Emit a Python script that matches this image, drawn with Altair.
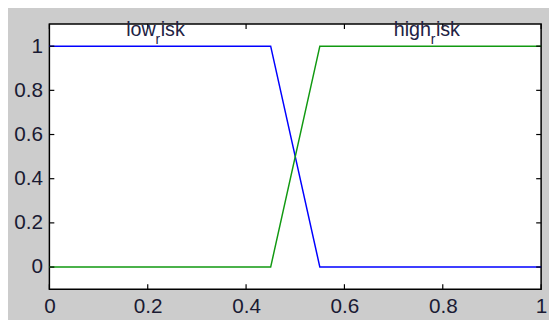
import altair as alt
import pandas as pd

# membership function breakpoints
mf_x = [0.0, 0.45, 0.55, 1.0]
low_risk = [1.0, 1.0, 0.0, 0.0]
high_risk = [0.0, 0.0, 1.0, 1.0]

x_ticks = [0, 0.2, 0.4, 0.6, 0.8, 1.0]
y_ticks = [0, 0.2, 0.4, 0.6, 0.8, 1.0]

label_pre = ["low", "high"]
label_sub = ["r", "r"]
label_post = ["isk", "isk"]
label_x = [0.2204, 0.780]
label_y = [1.045, 1.045]

W, H = 499, 269

df = pd.DataFrame({
    "x": mf_x * 2,
    "y": low_risk + high_risk,
    "mf": ["low"] * 4 + ["high"] * 4,
})
lab = pd.DataFrame({"x": label_x, "y": label_y, "pre": label_pre,
                    "sub": label_sub, "post": label_post})
xt = pd.DataFrame({"t": x_ticks})
yt = pd.DataFrame({"t": y_ticks})

FONT = "Liberation Sans"
xs = alt.Scale(domain=[0, 1], nice=False, zero=False)
ys = alt.Scale(domain=[-0.1, 1.1], nice=False, zero=False)

lines = alt.Chart(df).mark_line(strokeWidth=1.5).encode(
    x=alt.X("x:Q", scale=xs, title=None,
            axis=alt.Axis(values=x_ticks, format="~g", tickSize=0, domain=False,
                          grid=False, labelFont=FONT, labelFontSize=21,
                          labelColor="#1a1a33", labelPadding=7, labelFlush=False)),
    y=alt.Y("y:Q", scale=ys, title=None,
            axis=alt.Axis(values=y_ticks, format="~g", tickSize=0, domain=False,
                          grid=False, labelFont=FONT, labelFontSize=21,
                          labelColor="#1a1a33", labelPadding=7)),
    color=alt.Color("mf:N", scale=alt.Scale(domain=["low", "high"],
                                            range=["#0000ff", "#119911"]),
                    legend=None),
    detail="mf:N",
)

tick_color = "black"
bottom_ticks = alt.Chart(xt).mark_rule(color=tick_color, strokeWidth=1.2).encode(
    x=alt.X("t:Q", scale=xs), y=alt.value(H), y2=alt.value(H - 5))
top_ticks = alt.Chart(xt).mark_rule(color=tick_color, strokeWidth=1.2).encode(
    x=alt.X("t:Q", scale=xs), y=alt.value(0), y2=alt.value(5))
left_ticks = alt.Chart(yt).mark_rule(color=tick_color, strokeWidth=1.2).encode(
    y=alt.Y("t:Q", scale=ys), x=alt.value(0), x2=alt.value(5))
right_ticks = alt.Chart(yt).mark_rule(color=tick_color, strokeWidth=1.2).encode(
    y=alt.Y("t:Q", scale=ys), x=alt.value(W), x2=alt.value(W - 5))

pre = alt.Chart(lab).mark_text(font=FONT, fontSize=20, align="right",
                               baseline="alphabetic", dx=-2, color="#222244").encode(
    x=alt.X("x:Q", scale=xs), y=alt.Y("y:Q", scale=ys), text="pre:N")
sub = alt.Chart(lab).mark_text(font=FONT, fontSize=14, align="center",
                               baseline="alphabetic", dy=8, color="#222244").encode(
    x=alt.X("x:Q", scale=xs), y=alt.Y("y:Q", scale=ys), text="sub:N")
post = alt.Chart(lab).mark_text(font=FONT, fontSize=20, align="left",
                                baseline="alphabetic", dx=3, color="#222244").encode(
    x=alt.X("x:Q", scale=xs), y=alt.Y("y:Q", scale=ys), text="post:N")

chart = alt.layer(lines, bottom_ticks, top_ticks, left_ticks, right_ticks,
                  pre, sub, post).properties(
    width=W, height=H,
    background="#cccccc",
    padding={"left": 42, "top": 14, "right": 8, "bottom": 29},
    autosize=alt.AutoSizeParams(type="none"),
).configure_view(
    fill="white", stroke="black", strokeWidth=1.5
)

chart.save("out.html", embed_options={"renderer": "svg", "actions": False})
